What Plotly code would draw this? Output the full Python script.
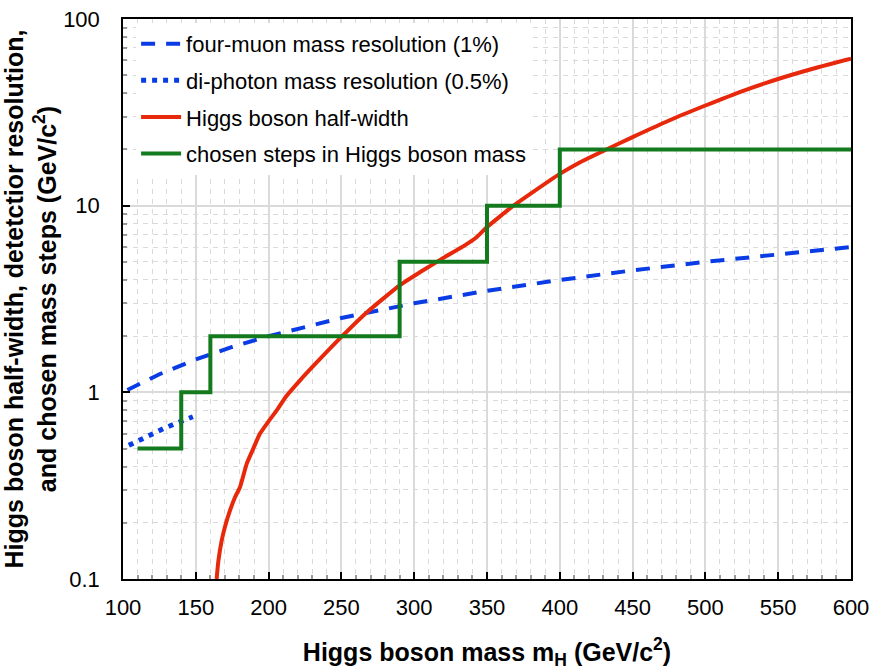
import plotly.graph_objects as go

# Higgs boson mass grid and the quantities plotted against it (GeV/c^2)
muon_mass = [103, 125, 150, 175, 200, 250, 300, 350, 400, 450, 500, 550, 600]
muon_res = [1.03, 1.25, 1.5, 1.75, 2.0, 2.5, 3.0, 3.5, 4.0, 4.5, 5.0, 5.5, 6.0]

photon_mass = [104, 112, 120, 128, 135, 142, 148]
photon_res = [0.52, 0.56, 0.60, 0.64, 0.675, 0.71, 0.74]

width_mass = [164.3, 165.5, 167.8, 170, 173.5, 177, 180.4, 185, 190, 194.1, 200,
              205.6, 212, 221.6, 235, 250, 267, 290, 305, 320, 335, 343, 350,
              360, 367, 380, 400, 414, 432, 450, 475, 500, 525, 551, 575, 600]
half_width = [0.1, 0.125, 0.161, 0.19, 0.233, 0.275, 0.311, 0.415, 0.51, 0.601, 0.70,
              0.80, 0.95, 1.16, 1.5, 1.98, 2.66, 3.74, 4.45, 5.25, 6.15, 6.8, 7.68,
              8.9, 9.84, 11.6, 14.8, 17.1, 20.0, 23.3, 28.6, 34.4, 41.0, 48.0, 54.5, 61.3]

step_mass = [110, 140, 160, 290, 350, 400, 600]
step_size = [0.5, 1, 2, 5, 10, 20, 20]

x_ticks = [100, 150, 200, 250, 300, 350, 400, 450, 500, 550, 600]
y_ticks = [0.1, 1, 10, 100]
y_tick_text = ["0.1", "1", "10", "100"]

BLUE = "#0a3ce6"
RED = "#e8280a"
GREEN = "#137a1e"
GRID = "#dadada"

fig = go.Figure()
fig.add_trace(go.Scatter(
    x=muon_mass, y=muon_res, mode="lines", name="four-muon mass resolution (1%)",
    legendgroup="a", line=dict(color=BLUE, width=4, dash="14px,11px")))
fig.add_trace(go.Scatter(
    x=photon_mass, y=photon_res, mode="lines", name="di-photon mass resolution (0.5%)",
    legendgroup="b", line=dict(color=BLUE, width=5, dash="5px,6px")))
fig.add_trace(go.Scatter(
    x=width_mass, y=half_width, mode="lines", name="Higgs boson half-width",
    legendgroup="c", line=dict(color=RED, width=4, shape="spline", smoothing=0.5)))
fig.add_trace(go.Scatter(
    x=step_mass, y=step_size, mode="lines", name="chosen steps in Higgs boson mass",
    legendgroup="d", line=dict(color=GREEN, width=4, shape="hv")))

font_family = "Liberation Sans, Arial, sans-serif"

fig.update_layout(
    width=873, height=670,
    margin=dict(l=123, r=22, t=19, b=91),
    paper_bgcolor="white", plot_bgcolor="white",
    font=dict(family=font_family, size=22, color="black"),
    showlegend=True,
    legend=dict(x=0.018, y=0.993, xanchor="left", yanchor="top",
                bgcolor="white", borderwidth=0, tracegroupgap=5,
                itemwidth=40, traceorder="grouped", font=dict(size=22)),
    xaxis=dict(
        range=[100, 600], tickvals=x_ticks, ticktext=[str(v) for v in x_ticks],
        showgrid=True, gridcolor=GRID, gridwidth=1.5,
        ticks="inside", ticklen=7, tickcolor="black", tickwidth=1.5,
        showline=True, linecolor="black", linewidth=1.5, mirror=True,
        zeroline=False, ticklabelstandoff=8, automargin=False,
        minor=dict(dtick=10, showgrid=True, gridcolor=GRID, griddash="5px,5px",
                   gridwidth=1.2, ticks="inside", ticklen=4, tickcolor="#999999"),
        title=dict(text="<b>Higgs boson mass m<sub>H</sub> (GeV/c<sup>2</sup>)</b>",
                   font=dict(size=25), standoff=34),
        tickfont=dict(size=22),
    ),
    yaxis=dict(
        type="log", range=[-1, 2], tickvals=y_ticks, ticktext=y_tick_text,
        showgrid=True, gridcolor=GRID, gridwidth=1.5,
        ticks="inside", ticklen=7, tickcolor="black", tickwidth=1.5,
        showline=True, linecolor="black", linewidth=1.5, mirror=True,
        zeroline=False, ticklabelstandoff=17, automargin=False,
        minor=dict(dtick="D1", showgrid=True, gridcolor=GRID, griddash="5px,5px",
                   gridwidth=1.2, ticks="inside", ticklen=4, tickcolor="#999999"),
        title=dict(text="<b>Higgs boson half-width, detetctior resolution,<br>"
                        "and chosen mass steps (GeV/c<sup>2</sup>)</b>",
                   font=dict(size=25), standoff=0),
        tickfont=dict(size=22),
    ),
)

fig.write_html("out.html")
